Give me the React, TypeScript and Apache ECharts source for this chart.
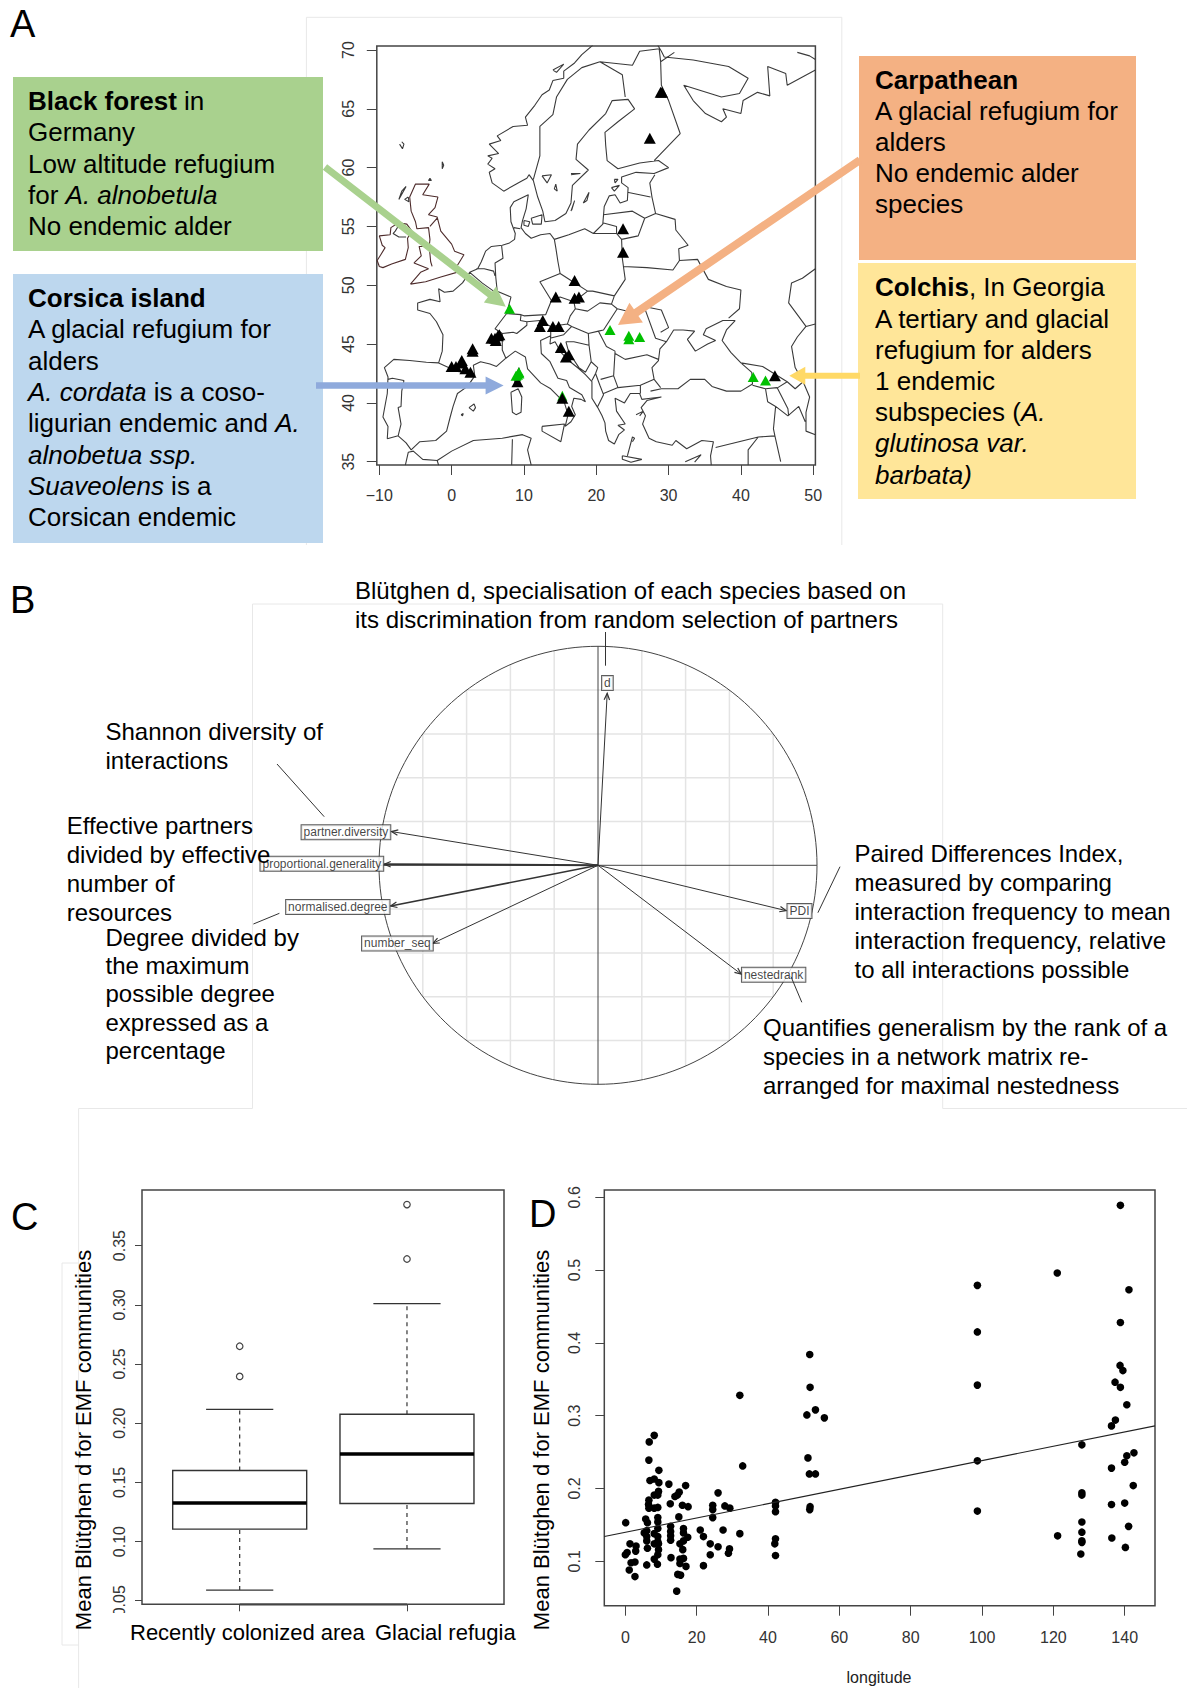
import React, { useEffect, useRef } from "react";
import * as echarts from "echarts";

const FONT = "Liberation Sans";

// ---------- Panel A: map outlines (lon, lat) ----------
const atlanticCoast = [[-8.9,36.95],[-8.8,38],[-9.5,38.8],[-8.9,40.8],[-8.8,42.2],[-9.3,43],[-8,43.7],[-5.8,43.6],[-3.5,43.45],[-1.8,43.4],[-1.3,44.4],[-1.2,45.8],[-2.1,46.9],[-3,47.6],[-4.7,47.9],[-4.7,48.5],[-3,48.8],[-1.6,48.6],[-1.8,49.7],[-1,49.4],[0.2,49.5],[1.5,50.2],[2.5,51.1],[3.6,51.4],[4.1,52],[4.7,52.9],[5.5,53.3],[7,53.4],[8,53.6],[8.7,53.9],[8.8,54.4],[8.2,55.4],[8.1,56.6],[8.6,57.1],[10.6,57.7],[10.3,56.5],[9.8,55.5],[9.6,54.9],[10.2,54.4],[11,54],[12.3,54.3],[13.6,54.4],[14.2,53.9],[16.2,54.3],[18.4,54.8],[19.6,54.4],[20.9,55.2],[21.1,56.7],[21.8,57.6],[22.6,57.7],[23.3,57],[24.3,57.2],[24.4,58.3],[23.5,58.7],[23.5,59.2],[25.5,59.6],[28,59.5],[30,60],[28.6,60.6],[26,60.4],[23,59.9],[21.5,60.6],[21.3,61.9],[21.2,63],[23,63.9],[25.3,65],[24.4,65.8],[22.2,65.7],[21.3,64.6],[19,63.2],[17.4,62],[17.2,60.7],[18.9,59.8],[16.7,58.5],[16.5,57],[15.8,56.1],[14.3,55.5],[12.9,55.4],[12.6,56.3],[11.9,57.5],[11.3,58.9],[10.7,59.4],[10.4,59.1],[9.5,58.8],[7.2,58],[5.6,58.7],[5.2,59.6],[6,59.9],[5,60.3],[5.6,60.8],[5,61],[6.5,61.2],[5.2,62],[6.8,62.3],[6.3,62.7],[8.5,63.5],[10.5,63.6],[10.2,64.3],[11.5,65.3],[12.5,66.2],[13.5,66.6],[14,67.4],[15.5,67.6],[15.5,68.2],[17,68.9],[18,69.6],[19.5,70.4]];
const arcticCoast = [[28.5,70.4],[29,69.9],[29.4,69.4],[33.4,69.15],[38.3,68.6],[41,67.6],[39.8,66.3],[37.3,66],[32.1,67],[33.4,65.7],[35.1,64.6],[37.3,63.9],[38,64.3],[37.5,65],[40,64.6],[40.3,65.7],[42.3,66.4],[44,66.1],[43.7,68.6],[46.2,68],[46.4,67],[50.3,68.3]];
const mediterraneanCoast = [[-8.9,36.95],[-7.4,37.2],[-6.3,36.6],[-5.6,36],[-4.4,36.7],[-2.2,36.8],[-0.7,37.6],[-0.2,38.8],[0.2,39.7],[0.8,40.8],[2.2,41.4],[3.2,42.3],[3,43.2],[4,43.5],[5.3,43.3],[6.2,43.1],[7.5,43.8],[8.8,44.4],[10.2,43.9],[10.5,42.9],[12.3,41.7],[13.7,41.2],[14.5,40.7],[15.6,40],[16.1,39],[15.7,38],[16.5,38.4],[17.1,39],[16.6,39.7],[16.9,40.4],[17.9,40.3],[18.5,40.1],[18,40.7],[16.3,41.3],[15.9,41.9],[14.7,42.1],[13.6,43.5],[12.4,44.2],[12.3,45.3],[13.7,45.7],[13.6,45],[14.3,45.2],[15.1,44.3],[16.4,43.5],[17.6,42.9],[18.5,42.4],[19.4,41.8],[19.4,40.4],[20.2,39.6],[20.8,38.9],[21.2,38.3],[21.3,37.6],[21.7,36.8],[22.5,36.5],[23.1,37.3],[23.9,37.7],[23,38.1],[24,38.2],[22.8,39.3],[22.6,40.4],[23.9,40],[24.7,40.8],[26,40.8],[26.3,40.3],[27.5,40.4],[29,40.5],[27,40.2],[26.2,39.6],[26.8,38.9],[26.4,38.2],[27.3,37],[28.3,36.7],[30.5,36.4],[31,36.8],[32.5,36.1],[34.6,36.8],[36.2,36.7],[35.8,35.5],[35.9,34.7]];
const blackSeaCoast = [[27.5,41],[29,41.2],[31.3,41.2],[33,42],[35,42],[36,41.4],[38,41],[40,41],[41.6,41.6],[41.5,42.6],[40,43.4],[38.6,44.3],[37.4,45.3],[38,46.2],[39.2,47],[37.5,47],[35.2,46.3],[34.8,45.8],[36.5,45.3],[35.4,45],[33.7,44.4],[32.6,45.4],[33.6,46.1],[32,46.2],[30.7,46.2],[29.7,45.2],[28.8,44.6],[28.6,43.6],[27.7,43],[28,42],[28.9,41.3]];
const caspianCoast = [[50.3,46.7],[49,46.5],[47.8,45.6],[47,44.8],[47.5,43],[48.6,41.8],[49.5,40.5],[49,39.2],[49,37.6],[50.3,37.3]];
const northAfricaCoast = [[-6.4,34.7],[-6,35.8],[-5.3,35.9],[-4,35.2],[-2,35.1],[0,35.9],[3,36.8],[7,37],[9.8,37.3],[11,37],[10.5,36],[11,34.7]];
const britain = [[-5.7,50.1],[-3.6,50.3],[-1.5,50.7],[1.3,51.2],[0.7,51.6],[1.7,52.6],[0.4,52.9],[0,53.5],[-1.5,54.6],[-2,55.8],[-3.2,56],[-2.3,56.6],[-1.9,57.5],[-4,57.7],[-3.1,58.6],[-5,58.6],[-5.8,57.5],[-5.6,56.3],[-5,55.4],[-4.8,54.8],[-3.2,54.9],[-3,53.9],[-3.1,53.3],[-4.5,53.3],[-4.2,52.5],[-5.2,51.9],[-3.2,51.4],[-4.3,51.1],[-5.7,50.1]];
const ireland = [[-10,51.6],[-9.5,51.5],[-8.3,51.8],[-6.4,52.2],[-6,53.2],[-6.1,54],[-5.5,54.6],[-6.2,55.2],[-7.4,55.3],[-8.4,54.9],[-8.5,54.3],[-10,54.2],[-9.6,53.4],[-9.2,53.2],[-9.8,52.6],[-10.3,52.1],[-10,51.6]];
const islands = [
  [[12.5,38],[15.6,38.2],[15.1,36.7],[12.5,37.6],[12.5,38]],
  [[8.2,40.9],[9.2,41.2],[9.7,40.5],[9.6,39.2],[8.9,39],[8.4,39.2],[8.2,40.9]],
  [[8.7,42],[9.3,43],[9.5,42.5],[9.4,41.6],[8.8,41.5],[8.7,42]],
  [[2.4,39.6],[3.1,39.9],[3.3,39.6],[3,39.3],[2.4,39.6]],
  [[1.3,39],[1.6,39.1],[1.5,38.9],[1.3,39]],
  [[23.6,35.5],[26.3,35.2],[24.8,34.95],[23.6,35.2],[23.6,35.5]],
  [[32.3,35],[34.5,35.6],[33.6,34.96]],
  [[11,55.7],[12.5,56],[12.4,55.2],[11.2,55.2],[11,55.7]],
  [[10,55.5],[10.8,55.4],[10.6,55],[10,55.1],[10,55.5]],
  [[18.2,57],[19,57.9],[18.7,57.2],[18.2,57]],
  [[16.5,56.3],[17,57.2],[16.6,56.4]],
  [[22.1,58.3],[23.2,58.5],[22.5,58],[22.1,58.3]],
  [[22.5,59],[23,59],[22.6,58.7],[22.5,59]],
  [[-6.9,62.2],[-6.6,62],[-6.8,61.6],[-7.2,62]],
  [[-1.3,60.5],[-1.1,60.2],[-1.3,59.9],[-1.3,60.5]],
  [[-3,59.1],[-2.8,58.9],[-3.2,58.9],[-3,59.1]],
  [[-6.3,58.4],[-6.9,58],[-7.3,57.3],[-6.3,58.4]],
  [[-6,57.5],[-5.9,57.1],[-6.5,57.3],[-6,57.5]],
  [[14,68.3],[15.5,68.8],[14.5,68.1],[14,68.3]],
  [[25.5,39],[26.5,39.3],[26,38.9]],
  [[24.3,35.5],[25,37.1],[25.3,37],[25,36.7]],
  [[47.8,69.8],[49.5,69.5],[50.3,69.2]],
];
const lakes = [[[12.5,59.3],[13.8,59.4],[13.2,58.7],[12.5,59.3]],[[14.4,58.6],[14.6,58],[14.2,58.2],[14.4,58.6]],[[16.5,59.5],[17.8,59.5],[16.5,59.4]]];
const westEuropeBorders = [
  [[-1.8,43.4],[0.7,42.7],[3.2,42.4]],
  [[-8.8,42],[-8.2,42.1],[-6.6,41.9],[-6.9,41],[-7,39.7],[-7.4,39.6],[-7,38.2],[-7.4,37.2]],
  [[2.5,51.1],[4.2,50.2],[5.8,49.5],[6.3,49.5],[8.2,49],[7.6,47.6],[6,46.3],[7,45.9],[7,44.5],[7.5,43.8]],
  [[3.4,51.4],[4.5,51.4],[5.8,51.2],[6,50.8]],
  [[6.9,53.4],[7.1,52.3],[6,51.9],[6.1,50.7],[6.3,49.5]],
  [[8.6,54.9],[9.5,54.8]],
  [[7.6,47.6],[9.6,47.5],[10,47.4],[13,47.5],[13.8,48.7],[12.2,50.3],[15,51],[14.7,52],[14.4,53.2],[14.2,53.9]],
  [[7,45.9],[8.5,46],[9,45.9],[10.4,46.6],[10.4,46.9],[9.5,47],[9.6,47.5]],
  [[10.4,46.9],[12.2,47],[13.7,46.5],[13.7,45.7]],
  [[-7.3,55.1],[-7.8,54.6],[-8.1,54.4],[-7.3,54.1],[-6.3,54.1]],
];
const greatBritainBorders = [[[-3,55],[-2,55.7]],[[-3.1,53.3],[-2.9,52],[-2.7,51.6]]];
const centralEuropeBorders = [
  [[13.7,46.5],[16,46.7],[16.4,47.4],[17.1,48],[16.9,48.6],[15,49],[13.8,48.7]],
  [[15,51],[16.5,50.4],[18.8,49.5],[19.5,49.5],[22.5,49.1],[24,50.5],[23.6,52.3],[23.5,53.9],[22.8,54.4],[19.7,54.4]],
  [[16.9,48.6],[18.8,49.5]],
  [[17.1,48],[18.8,47.8],[20.5,48.5],[22.1,48.4],[22.5,49.1]],
  [[22.8,54.4],[22.8,55],[21,55.3]],
  [[23.5,53.9],[25.8,54.2],[26.7,55.7],[28.2,56.1],[27.7,57.5],[27.4,58.7],[28.1,59.4]],
  [[21,56],[25,56.3],[26.7,55.7]],
  [[24.3,57.9],[27.5,57.5]],
  [[28.2,56.1],[30.9,55.6],[31,54.7],[32.7,53.4],[31.4,53.1],[31.5,52.1]],
  [[23.7,51.6],[27,51.5],[30.6,51.3],[31.5,52.1],[34,52.2],[35.5,50.5],[38,49.9],[40,49.6],[39.8,48],[38.3,47.2]],
  [[22.1,48.4],[22.9,48],[24.9,47.7],[26.6,48.2],[28.2,45.5],[29.7,45.2]],
  [[26.6,48.2],[29,47.9],[30,46.4],[28.9,46]],
  [[22.9,48],[21,46.2],[20.3,46.1],[18.9,45.9],[16.6,46.5],[16,46.7]],
];
const balkanBorders = [
  [[13.6,45.5],[15.5,45.8],[16.6,46.5]],
  [[15.8,45.2],[16.9,45.2],[19,44.9],[18.9,45.9]],
  [[15.8,45.2],[16.2,44.3],[17.6,43],[18.5,42.6]],
  [[19,44.9],[19.3,43.5],[18.5,42.6]],
  [[19.3,43.5],[20.2,43],[19.9,42.5],[19.4,41.9]],
  [[19.9,42.5],[20.5,41.5],[21,40.7],[20.2,39.7]],
  [[20.3,46.1],[21.4,44.8],[22.6,44.4]],
  [[22.6,44.2],[24,43.7],[27,44.1],[28.6,43.7]],
  [[22.6,44.4],[22.4,42.3],[20.6,42]],
  [[21,40.8],[23,41.3],[26.1,41.5],[28,42]],
  [[22.4,42.3],[23,41.3]],
  [[26.1,41.5],[26.1,40.8]],
];
const caucasusBorders = [
  [[41.6,41.5],[43.4,41.2],[45,41.3],[46.5,39.5],[46.6,38.9]],
  [[40,43.4],[43,43.1],[46.4,41.8],[45.1,41.3]],
  [[46.4,41.8],[47.5,41.2],[48.6,41.8]],
  [[43.4,41.2],[43.7,40.1],[44.8,39.7],[44.5,37.8],[44.7,37.2],[42.4,37.1],[36.5,36.2]],
  [[44.8,39.7],[46.5,38.9],[48,39.7],[48.9,38.4]],
  [[44.7,37.2],[45.5,35]],[[42.4,37.1],[41,36],[41,34.7]],
  [[50.3,51.4],[48.5,50.6],[47,50.2],[46.6,48.5],[49,46.5]],
  [[-2,35.1],[-1.8,34.7]],[[8.4,36.9],[8.3,34.7]],
];
const nordicBorders = [
  [[11.3,59],[12.2,61],[12.2,63.5],[14,64.5],[14.5,66],[16,67.5],[18,68.5],[20.5,69]],
  [[20.5,69],[23.6,67.9],[24,66]],
  [[20.5,69],[25,68.7],[26,69.9],[28.7,70.1],[28.9,69],[30.8,69.8]],
  [[28.9,69],[29,67],[30,65.7],[31.6,62.9],[28,60.6]],
];
const britishIsles = [britain, ireland, ...greatBritainBorders];
const mapOutlines = [...islands, ...lakes, atlanticCoast, arcticCoast, mediterraneanCoast, blackSeaCoast, caspianCoast, northAfricaCoast, ...westEuropeBorders, ...centralEuropeBorders, ...balkanBorders, ...caucasusBorders, ...nordicBorders];

const blackSites = [[9.1,41.8],[28.9,66.4],[29.1,66.4],[27.4,62.5],[23.7,54.8],[23.7,52.8],[17,50.4],[14.4,49],[17,48.9],[17.6,49],[12.6,47],[12.2,46.5],[14,46.5],[14.8,46.5],[6.6,45.8],[6,45.5],[5.5,45.5],[6.1,45.3],[6.4,45.7],[2.9,44.6],[2.9,44.4],[0,43.1],[0.6,43.1],[1.3,43.4],[1.4,43.6],[1.9,42.9],[2.6,42.6],[15.1,44.7],[16.2,44.1],[15.8,43.9],[15.3,40.4],[16.2,39.3],[44.7,42.3]];
const greenSites = [[8,48],[9.3,42.6],[8.9,42.3],[9.1,42.4],[9.3,42.5],[21.9,46.2],[24.5,45.7],[24.5,45.4],[26,45.6],[41.7,42.2],[43.4,41.9]];
const greenSitesUnder = [[15.3,40.6]];
const mapLonTicks = [-10,0,10,20,30,40,50];
const mapLatTicks = [35,40,45,50,55,60,65,70];

// ---------- Panel B: correlation circle ----------
const variableNames = ["d","partner.diversity","proportional.generality","normalised.degree","number_seq","PDI","nestedrank"];
const variableX = [0.042,-0.943,-0.976,-0.947,-0.754,0.859,0.654];
const variableY = [0.785,0.154,0.005,-0.186,-0.356,-0.207,-0.497];
const variableWeight = [1,1,2,1.6,1,1,1];
const labelX = [0.043,-1.151,-1.261,-1.188,-0.916,0.92,0.802];
const labelY = [0.832,0.151,0.007,-0.19,-0.357,-0.209,-0.5];
const circleGridSteps = [-0.8,-0.6,-0.4,-0.2,0.2,0.4,0.6,0.8];

// ---------- Panel C: boxplots ----------
const boxPositions = [1,2];
const boxMin = [0.059,0.0938];
const boxQ1 = [0.1105,0.1322];
const boxMedian = [0.1325,0.174];
const boxQ3 = [0.16,0.2076];
const boxMax = [0.2116,0.301];
const boxOutliers = [[1,0.265],[1,0.2395],[2,0.3847],[2,0.3387]];
const boxYTicks = [0.05,0.1,0.15,0.2,0.25,0.3,0.35];

// ---------- Panel D: scatter ----------
const longitudePoints = [[0.1,.153],[0,.109],[.5,.112],[1.3,.124],[3,.121],[2.9,.114],[1.6,.098],[2.7,.099],[1.1,.088],[2.7,.079],[5.7,.158],[6.2,.153],[6,.142],[5.3,.139],[6,.134],[6,.128],[6.2,.118],[6,.095],[6.7,.264],[8.1,.273],[6.6,.239],[9.4,.225],[8.1,.213],[6.9,.211],[9.4,.208],[9.3,.196],[8.1,.191],[9.1,.191],[6.6,.184],[6.5,.178],[6.6,.173],[8.1,.173],[9.1,.174],[9.1,.16],[9.1,.154],[9.1,.145],[8.1,.138],[9.1,.134],[9.1,.127],[8.1,.124],[9.3,.124],[9.3,.116],[9.1,.109],[8.1,.103],[9,.096]];
const longitudePoints2 = [[12.2,.206],[12.6,.179],[13.9,.189],[15.1,.195],[14.6,.191],[16.9,.204],[16,.177],[17.6,.175],[15,.161],[12.7,.148],[12.7,.141],[12.7,.135],[12.7,.129],[12.8,.105],[16.3,.145],[16.3,.139],[17.5,.133],[16.3,.128],[15.3,.124],[16.1,.116],[16.3,.104],[15.3,.103],[15.3,.097],[17,.093],[14.7,.082],[15.5,.081],[14.4,.059]];
const longitudePoints3 = [[21,.143],[21.9,.134],[21.9,.094],[23.8,.124],[23.8,.109],[26,.12],[24.5,.177],[24.5,.171],[24.5,.16],[26,.194],[27.9,.176],[29.3,.173],[27.4,.143],[29.2,.117],[28.9,.111],[32.1,.138],[32.1,.328],[32.9,.231],[42.1,.181],[42.1,.176],[42.1,.168],[42.1,.131],[41.9,.124],[42.1,.108],[51.7,.384],[51.8,.339],[50.9,.301],[53.3,.308],[55.8,.297],[51.2,.242],[51.6,.22],[53.3,.22],[51.8,.175],[51.7,.171]];
const longitudePoints4 = [[98.7,.479],[98.7,.415],[98.7,.342],[98.7,.238],[98.7,.169],[121.1,.496],[121.2,.135],[128,.26],[128,.194],[128,.191],[128,.154],[128,.14],[128,.128],[128,.126],[127.7,.11],[138.8,.589],[141.2,.473],[138.8,.428],[138.7,.369],[139.5,.362],[137.3,.346],[138.8,.339],[140.6,.315],[137.4,.294],[136.3,.286],[140.6,.245],[142.6,.249],[140,.236],[136.3,.228],[142.4,.204],[140,.18],[136.3,.178],[141.1,.148],[136.4,.132],[140.2,.119]];
const trendLine = [[-5.9,.134],[148.5,.286]];
const scatterXTicks = [0,20,40,60,80,100,120,140];
const scatterYTicks = [0.1,0.2,0.3,0.4,0.5,0.6];

// ---------- Annotations ----------
const greenBoxLines = ["{b|Black forest} in","Germany","Low altitude refugium","for {i|A. alnobetula}","No endemic alder"];
const blueBoxLines = ["{b|Corsica island}","A glacial refugium for","alders","{i|A. cordata} is a coso-","ligurian endemic and {i|A.}","{i|alnobetua ssp.}","{i|Suaveolens} is a","Corsican endemic"];
const orangeBoxLines = ["{b|Carpathean}","A glacial refugium for","alders","No endemic alder","species"];
const yellowBoxLines = ["{b|Colchis}, In Georgia","A tertiary and glacial","refugium for alders","1 endemic","subspecies ({i|A.}","{i|glutinosa var.}","{i|barbata)}"];
const topNote = ["Blütghen d, specialisation of each species based on","its discrimination from random selection of partners"];
const shannonNote = ["Shannon diversity of","interactions"];
const effectiveNote = ["Effective partners","divided by effective","number of","resources"];
const degreeNote = ["Degree divided by","the maximum","possible degree","expressed as a","percentage"];
const pairedNote = ["Paired Differences Index,","measured by comparing","interaction frequency to mean","interaction frequency, relative","to all interactions possible"];
const quantNote = ["Quantifies generalism by the rank of a","species in a network matrix re-","arranged for maximal nestedness"];
const yTitle = "Mean Blütghen d for EMF communities";

const txt = (text: string, x: number, y: number, size: number, extra: any = {}) => ({
  type: "text", x, y, z: 50, silent: true, ...extra,
  style: {
    text, fontFamily: FONT, fontSize: size, fill: "#000", textVerticalAlign: "middle",
    rich: {
      b: { fontWeight: "bold", fontSize: size, fontFamily: FONT, fill: "#000" },
      i: { fontStyle: "italic", fontSize: size, fontFamily: FONT, fill: "#000" },
    },
    ...(extra.style || {}),
  },
});
const block = (lines: string[], x: number, y: number, step: number, size: number) =>
  lines.map((l, k) => txt(l, x, y + k * step, size));

const arrow = (x1: number, y1: number, x2: number, y2: number, t: number, hl: number, hw: number, fill: string) => {
  const L = Math.hypot(x2 - x1, y2 - y1), ux = (x2 - x1) / L, uy = (y2 - y1) / L, nx = -uy, ny = ux;
  const bx = x2 - ux * hl, by = y2 - uy * hl;
  return {
    type: "polygon", z: 40, silent: true,
    shape: { points: [
      [x1 + nx * t / 2, y1 + ny * t / 2], [bx + nx * t / 2, by + ny * t / 2], [bx + nx * hw / 2, by + ny * hw / 2],
      [x2, y2], [bx - nx * hw / 2, by - ny * hw / 2], [bx - nx * t / 2, by - ny * t / 2], [x1 - nx * t / 2, y1 - ny * t / 2],
    ] },
    style: { fill },
  };
};
const rect = (x: number, y: number, w: number, h: number, fill: string) => ({ type: "rect", z: 30, silent: true, shape: { x, y, width: w, height: h }, style: { fill } });
const faint = (pts: number[][]) => ({ type: "polyline", z: 1, silent: true, shape: { points: pts }, style: { stroke: "#e8e8e8", lineWidth: 1, fill: "none" } });
const seg = (x1: number, y1: number, x2: number, y2: number, w = 1, c = "#333") => ({ type: "line", z: 45, silent: true, shape: { x1, y1, x2, y2 }, style: { stroke: c, lineWidth: w } });

const axisBase = (gridIndex: number, min: number, max: number, ticks: number[], tickLen: number, margin: number, rotate = 0, fmt?: (v: number) => string) => ({
  type: "value", gridIndex, min, max, splitLine: { show: false }, axisLine: { show: false, onZero: false },
  axisTick: { show: true, customValues: ticks, length: tickLen, lineStyle: { color: "#444", width: 1 } },
  axisLabel: { show: true, customValues: ticks, margin, rotate, color: "#333", fontSize: 16, fontFamily: FONT, hideOverlap: false, showMinLabel: true, showMaxLabel: true, formatter: fmt },
});

export default function App() {
  const ref = useRef<HTMLDivElement>(null);
  useEffect(() => {
    const chart = echarts.init(ref.current!, undefined, { renderer: "svg" });
    const gridStyle = { show: true, backgroundColor: "#fff", borderColor: "#444", borderWidth: 1.5 };
    const gridChords: any[] = [];
    circleGridSteps.forEach((s) => {
      const h = Math.sqrt(1 - s * s);
      gridChords.push([[s, -h], [s, h]], [[-h, s], [h, s]]);
    });
    const circlePts: number[][] = [];
    for (let k = 0; k <= 180; k++) circlePts.push([Math.cos((k * Math.PI) / 90), Math.sin((k * Math.PI) / 90)]);

    const join = (groups: number[][][]) => {
      const out: number[][] = [];
      groups.forEach((pts) => out.push(...pts, [NaN, NaN]));
      return out;
    };
    const outline = (groups: number[][][], color: string) => ({
      type: "line", xAxisIndex: 0, yAxisIndex: 0, data: join(groups), showSymbol: false, symbol: "none", silent: true, clip: true, z: 8,
      connectNulls: false, lineStyle: { color, width: 1.1 },
    });
    const siteSeries = (data: number[][], color: string, size: number[], z: number) => ({
      type: "scatter", xAxisIndex: 0, yAxisIndex: 0, data, symbol: "triangle", symbolSize: size, itemStyle: { color, opacity: 1 }, silent: true, z,
    });
    const chordSeries = gridChords.map((pts) => ({
      type: "line", xAxisIndex: 1, yAxisIndex: 1, data: pts, symbol: "none", silent: true, clip: false, z: 2, lineStyle: { color: "#e4e4e4", width: 1.5 },
    }));
    const darkLine = (pts: number[][]) => ({
      type: "line", xAxisIndex: 1, yAxisIndex: 1, data: pts, symbol: "none", silent: true, clip: false, z: 3, lineStyle: { color: "#444", width: 1 },
    });
    const option: any = {
      animation: false,
      backgroundColor: "#fff",
      grid: [
        { left: 376.8, top: 46, width: 438.6, height: 419, ...gridStyle },
        { left: 379, top: 646.3, width: 438, height: 438 },
        { left: 142, top: 1190, width: 362, height: 414.3, ...gridStyle },
        { left: 604.3, top: 1190, width: 550.7, height: 415.7, ...gridStyle },
      ],
      xAxis: [
        axisBase(0, -10.35, 50.3, mapLonTicks, 10, 22, 0, (v) => String(v).replace("-", "\u2212")),
        { type: "value", gridIndex: 1, min: -1, max: 1, show: false },
        { ...axisBase(2, 0.416, 2.58, boxPositions, 7, 8), axisLabel: { show: false } },
        axisBase(3, -5.9, 148.5, scatterXTicks, 10, 24),
      ],
      yAxis: [
        axisBase(0, 34.72, 70.34, mapLatTicks, 10, 20, 90),
        { type: "value", gridIndex: 1, min: -1, max: 1, show: false },
        axisBase(2, 0.047, 0.397, boxYTicks, 7, 15, 90, (v) => v.toFixed(2)),
        axisBase(3, 0.039, 0.61, scatterYTicks, 9, 22, 90, (v) => v.toFixed(1)),
      ],
      series: [
        outline(britishIsles, "#4d2b2b"),
        outline(mapOutlines, "#3a3a3a"),
        siteSeries(greenSitesUnder, "#00c000", [10, 10], 9),
        siteSeries(blackSites, "#000", [12, 11], 10),
        siteSeries(greenSites, "#00c000", [11, 10], 11),
        ...chordSeries,
        darkLine(circlePts),
        darkLine([[-1, 0], [1, 0]]),
        darkLine([[0, -1], [0, 1]]),
        {
          type: "custom", xAxisIndex: 1, yAxisIndex: 1, clip: false, silent: true, z: 4,
          data: variableNames.map((n, k) => [variableX[k], variableY[k], variableWeight[k]]),
          renderItem: (_: any, api: any) => {
            const o = api.coord([0, 0]);
            const e = api.coord([api.value(0), api.value(1)]);
            const w = api.value(2);
            const a = Math.atan2(e[1] - o[1], e[0] - o[0]);
            const head = [
              [e[0] - 7 * Math.cos(a - 0.4), e[1] - 7 * Math.sin(a - 0.4)],
              e,
              [e[0] - 7 * Math.cos(a + 0.4), e[1] - 7 * Math.sin(a + 0.4)],
            ];
            const style = { stroke: "#333", lineWidth: w, fill: "none" };
            return {
              type: "group",
              children: [
                { type: "line", shape: { x1: o[0], y1: o[1], x2: e[0], y2: e[1] }, style },
                { type: "polyline", shape: { points: head }, style: { ...style, lineWidth: 1.2 } },
              ],
            };
          },
        },
        {
          type: "scatter", xAxisIndex: 1, yAxisIndex: 1, clip: false, silent: true, z: 6, symbolSize: 0.01,
          data: variableNames.map((n, k) => ({ name: n, value: [labelX[k], labelY[k]] })),
          label: {
            show: true, position: "inside", formatter: "{b}", fontFamily: FONT, fontSize: 12, color: "#111",
            backgroundColor: "#fff", borderColor: "#333", borderWidth: 1, padding: [1, 2, 1, 2],
          },
        },
        {
          type: "custom", xAxisIndex: 2, yAxisIndex: 2, clip: false, silent: true, z: 4,
          data: boxPositions.map((p, k) => [p, boxMin[k], boxQ1[k], boxMedian[k], boxQ3[k], boxMax[k]]),
          renderItem: (_: any, api: any) => {
            const x = api.value(0);
            const y = (i: number) => api.coord([x, api.value(i)])[1];
            const cx = api.coord([x, 0.1])[0];
            const hw = 67, cw = 33.6;
            const s = { stroke: "#333", lineWidth: 1.2, fill: "none" };
            const dash = { ...s, lineDash: [4, 4] };
            return {
              type: "group",
              children: [
                { type: "line", shape: { x1: cx, y1: y(1), x2: cx, y2: y(2) }, style: dash },
                { type: "line", shape: { x1: cx, y1: y(4), x2: cx, y2: y(5) }, style: dash },
                { type: "line", shape: { x1: cx - cw, y1: y(1), x2: cx + cw, y2: y(1) }, style: s },
                { type: "line", shape: { x1: cx - cw, y1: y(5), x2: cx + cw, y2: y(5) }, style: s },
                { type: "rect", shape: { x: cx - hw, y: y(4), width: 2 * hw, height: y(2) - y(4) }, style: { ...s, lineWidth: 1.4, fill: "#fff" } },
                { type: "line", shape: { x1: cx - hw, y1: y(3), x2: cx + hw, y2: y(3) }, style: { stroke: "#000", lineWidth: 3.5 } },
              ],
            };
          },
        },
        {
          type: "scatter", xAxisIndex: 2, yAxisIndex: 2, data: boxOutliers, symbol: "circle", symbolSize: 6.5, silent: true, z: 5,
          itemStyle: { color: "#fff", borderColor: "#444", borderWidth: 1.2, opacity: 1 },
        },
        {
          type: "scatter", xAxisIndex: 3, yAxisIndex: 3, silent: true, symbol: "circle", symbolSize: 7.6, z: 5, itemStyle: { color: "#000", opacity: 1 },
          data: [...longitudePoints, ...longitudePoints2, ...longitudePoints3, ...longitudePoints4],
        },
        {
          type: "line", xAxisIndex: 3, yAxisIndex: 3, data: trendLine, symbol: "none", silent: true, z: 6, lineStyle: { color: "#222", width: 1.1 },
        },
      ],
      graphic: {
        elements: [
          faint([[306.4, 545], [306.4, 17.3], [841.8, 17.3], [841.8, 545]]),
          faint([[78.6, 1688], [78.6, 1108.5], [252.5, 1108.5], [252.5, 604], [942.7, 604], [942.7, 1108.5], [1187, 1108.5]]),
          faint([[78.6, 1263], [62, 1263], [62, 1645], [78.6, 1645]]),
          rect(13, 77, 310, 174, "#a9d18e"),
          rect(13, 274, 310, 269, "#bdd7ee"),
          rect(859, 56, 277, 204, "#f4b183"),
          rect(858, 263, 278, 236, "#ffe699"),
          arrow(325, 167, 505.8, 306.7, 7, 20, 20, "#a9d18e"),
          arrow(860, 160, 618, 325, 8, 22, 24, "#f4b183"),
          arrow(316, 385.5, 503.6, 385.5, 6.5, 18, 18, "#8faadc"),
          arrow(860, 375.7, 789.3, 375.7, 6, 16, 18, "#ffd966"),
          ...block(greenBoxLines, 28, 101, 31.25, 26),
          ...block(blueBoxLines, 28, 298, 31.35, 26),
          ...block(orangeBoxLines, 875, 79.6, 31.2, 26),
          ...block(yellowBoxLines, 875, 287.3, 31.2, 26),
          txt("A", 10, 24, 38),
          txt("B", 10, 600, 38),
          txt("C", 11, 1217, 38),
          txt("D", 529, 1214, 38),
          ...block(topNote, 355, 590, 29, 24),
          ...block(shannonNote, 105.5, 731, 29, 24),
          ...block(effectiveNote, 66.7, 825.5, 29, 24),
          ...block(degreeNote, 105.5, 937, 28.4, 24),
          ...block(pairedNote, 854.5, 853.4, 28.9, 24),
          ...block(quantNote, 763, 1027.8, 28.6, 24),
          seg(605.5, 632, 605.5, 665.7),
          seg(277, 764, 324.2, 816.7),
          seg(253.4, 924, 279.4, 913.3),
          seg(817.9, 912.7, 840, 866.7),
          seg(791, 976.7, 801.8, 1002.3),
          txt("Recently colonized area", 130, 1632, 22),
          txt("Glacial refugia", 375, 1632, 22),
          txt(yTitle, 83, 1440, 22, { rotation: Math.PI / 2, style: { textAlign: "center" } }),
          txt(yTitle, 541.7, 1440, 22, { rotation: Math.PI / 2, style: { textAlign: "center" } }),
          txt("longitude", 879, 1677, 16, { style: { textAlign: "center", fill: "#222" } }),
          seg(239.7, 1604.5, 407, 1604.5, 2, "#444"),
          rect(106, 1613, 30, 14, "#fff"),
        ],
      },
    };
    chart.setOption(option);
    return () => chart.dispose();
  }, []);
  return <div ref={ref} style={{ position: "absolute", left: 0, top: 0, width: 1187, height: 1688 }} />;
}
